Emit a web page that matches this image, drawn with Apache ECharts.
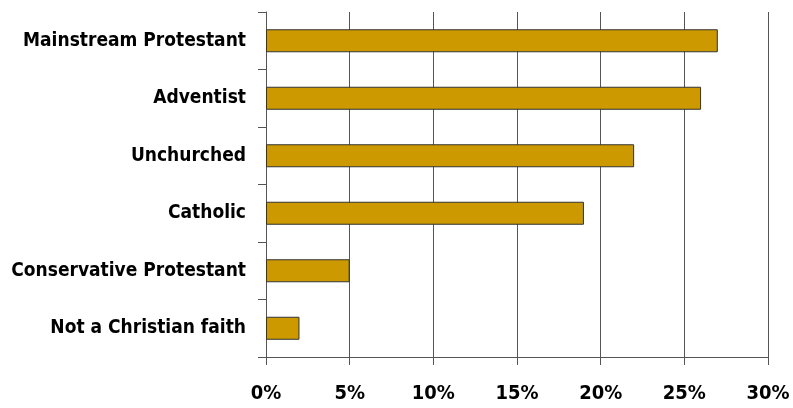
<!DOCTYPE html>
<html>
<head>
<meta charset="utf-8">
<script src="https://cdn.jsdelivr.net/npm/echarts@6/dist/echarts.min.js"></script>
<style>
html,body{margin:0;padding:0;background:#fff;}
#chart{width:793px;height:408px;}
</style>
</head>
<body>
<div id="chart"></div>
<script>
// Share of respondents by religious affiliation (percent)
const categories = [
  "Mainstream Protestant",
  "Adventist",
  "Unchurched",
  "Catholic",
  "Conservative Protestant",
  "Not a Christian faith"
];
const values = [27, 26, 22, 19, 5, 2];
const xTicks = [0, 5, 10, 15, 20, 25, 30];

const FONT = '"Liberation Sans Narrow", "Arial Narrow", "DejaVu Sans Condensed", sans-serif';

const chart = echarts.init(document.getElementById('chart'), null, {renderer: 'canvas'});
chart.setOption({
  animation: false,
  backgroundColor: '#ffffff',
  grid: {left: 266, right: 25, top: 12, bottom: 51, containLabel: false, outerBoundsMode: 'none'},
  xAxis: {
    type: 'value',
    min: xTicks[0],
    max: xTicks[xTicks.length - 1],
    interval: 5,
    axisLine: {show: true, lineStyle: {color: '#555', width: 1}},
    axisTick: {show: true, length: 8, lineStyle: {color: '#555'}},
    splitLine: {show: true, lineStyle: {color: '#555', width: 1}},
    axisLabel: {
      margin: 27,
      color: '#000',
      fontFamily: FONT,
      fontWeight: 'bold',
      fontSize: 20,
      formatter: v => v + '%'
    }
  },
  yAxis: {
    type: 'category',
    data: categories,
    inverse: true,
    axisLine: {show: true, lineStyle: {color: '#555', width: 1}},
    axisTick: {show: true, length: 8, lineStyle: {color: '#555'}},
    splitLine: {show: false},
    axisLabel: {
      margin: 20,
      color: '#000',
      fontFamily: FONT,
      fontWeight: 'bold',
      fontSize: 19
    }
  },
  series: [{
    type: 'bar',
    data: values,
    barCategoryGap: '60%',
    itemStyle: {color: '#CC9900', borderColor: '#333', borderWidth: 1}
  }]
});
</script>
</body>
</html>
